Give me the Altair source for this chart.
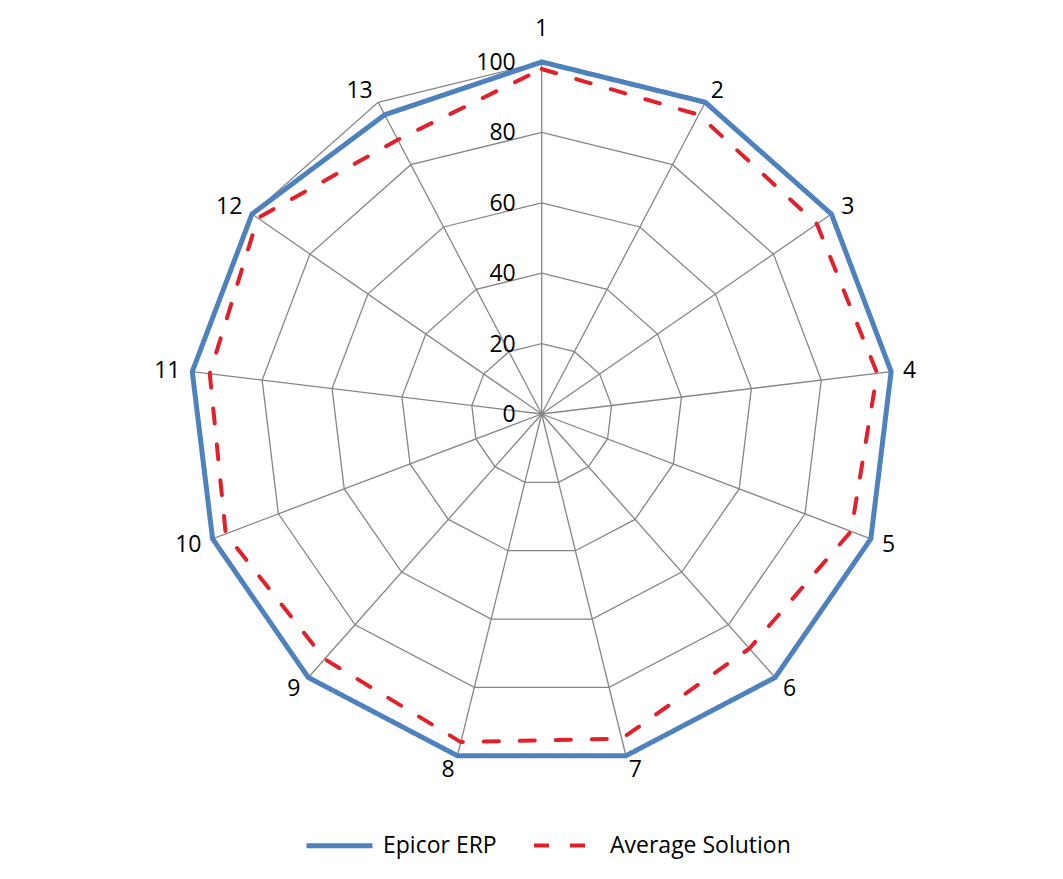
import altair as alt
import pandas as pd

# ---- data ----
categories = ["1", "2", "3", "4", "5", "6", "7", "8", "9", "10", "11", "12", "13"]
epicor = [100, 100, 100, 100, 100, 100, 100, 100, 100, 100, 100, 100, 96]
average = [98, 96, 95, 96, 94, 89, 95, 96, 93, 96, 95, 98, 88]
series_names = ["Epicor ERP", "Average Solution"]
series_colors = ["#4F81BD", "#E0202A"]
grid_levels = [20, 40, 60, 80, 100]
tick_values = [0, 20, 40, 60, 80, 100]
tick_labels = ["0", "20", "40", "60", "80", "100"]

N = len(categories)
PX = 3.52  # pixels per value unit
FS = 23

W, H = 1040, 856
CX, CY = 533.7, 406.0
XD = [-CX / PX, (W - CX) / PX]
YD = [-(H - CY) / PX, CY / PX]

rows = []
for name, vals in zip(series_names, [epicor, average]):
    for i, (c, v) in enumerate(zip(categories, vals)):
        rows.append({"series": name, "cat": c, "idx": i, "value": v})
series_df = pd.DataFrame(rows)

grid_df = pd.DataFrame([{"level": L, "idx": i} for L in grid_levels for i in range(N)])
spoke_df = pd.DataFrame([{"idx": i, "cat": c} for i, c in enumerate(categories)])
tick_df = pd.DataFrame({"value": tick_values, "label": tick_labels})

xs = alt.Scale(domain=XD, nice=False, zero=False)
ys = alt.Scale(domain=YD, nice=False, zero=False)

theta = f"2*PI*datum.idx/{N}"

grid = alt.Chart(grid_df).transform_calculate(
    x=f"datum.level*sin({theta})", y=f"datum.level*cos({theta})"
).mark_line(interpolate="linear-closed", color="#868686", strokeWidth=1.3).encode(
    x=alt.X("x:Q", scale=xs, axis=None),
    y=alt.Y("y:Q", scale=ys, axis=None),
    detail="level:N",
    order="idx:Q",
)

spokes = alt.Chart(spoke_df).transform_calculate(
    x=f"100*sin({theta})", y=f"100*cos({theta})", x0="0", y0="0"
).mark_rule(color="#868686", strokeWidth=1.3).encode(
    x=alt.X("x0:Q", scale=xs, axis=None),
    y=alt.Y("y0:Q", scale=ys, axis=None),
    x2="x:Q",
    y2="y:Q",
)

legend = alt.Legend(
    orient="none", legendX=296, legendY=802, direction="horizontal", title=None,
    symbolType="stroke", symbolSize=4356, labelFont="Open Sans", labelFontSize=FS,
    labelColor="#000000", columnPadding=29, labelOffset=8, labelLimit=400,
)

lines = alt.Chart(series_df).transform_calculate(
    x=f"datum.value*sin({theta})", y=f"datum.value*cos({theta})"
).mark_line(interpolate="linear-closed", strokeCap="round", strokeJoin="miter").encode(
    x=alt.X("x:Q", scale=xs, axis=None),
    y=alt.Y("y:Q", scale=ys, axis=None),
    color=alt.Color("series:N", scale=alt.Scale(domain=series_names, range=series_colors), legend=legend),
    strokeDash=alt.StrokeDash("series:N", scale=alt.Scale(domain=series_names, range=[[1, 0], [15, 21]]), legend=legend),
    strokeWidth=alt.StrokeWidth("series:N", scale=alt.Scale(domain=series_names, range=[5, 4]), legend=legend),
    order="idx:Q",
)

cat_labels = alt.Chart(spoke_df).transform_calculate(
    s=f"sin({theta})", c=f"cos({theta})"
).transform_calculate(
    sg="datum.s > 0.01 ? 1 : (datum.s < -0.01 ? -1 : 0)",
    hw="6.5*length(datum.cat)",
).transform_calculate(
    x=f"100*datum.s + (12*datum.s + datum.sg*datum.hw)/{PX}",
    y=f"100*datum.c + (datum.idx == 0 ? 34 : 14*datum.c)/{PX}",
).mark_text(font="Open Sans", fontSize=FS, color="#000000", align="center", baseline="middle", dy=1).encode(
    x=alt.X("x:Q", scale=xs, axis=None),
    y=alt.Y("y:Q", scale=ys, axis=None),
    text="cat:N",
)

ticks = alt.Chart(tick_df).transform_calculate(x0="0").mark_text(
    font="Open Sans", fontSize=FS, color="#000000", align="right", baseline="middle", dx=-26, dy=1
).encode(
    x=alt.X("x0:Q", scale=xs, axis=None),
    y=alt.Y("value:Q", scale=ys, axis=None),
    text="label:N",
)

chart = alt.layer(grid, spokes, lines, cat_labels, ticks).properties(
    width=W, height=H, padding=0, autosize="none", background="white"
).configure_view(stroke=None)

chart.save("out.html", embed_options={"renderer": "svg", "actions": False})
